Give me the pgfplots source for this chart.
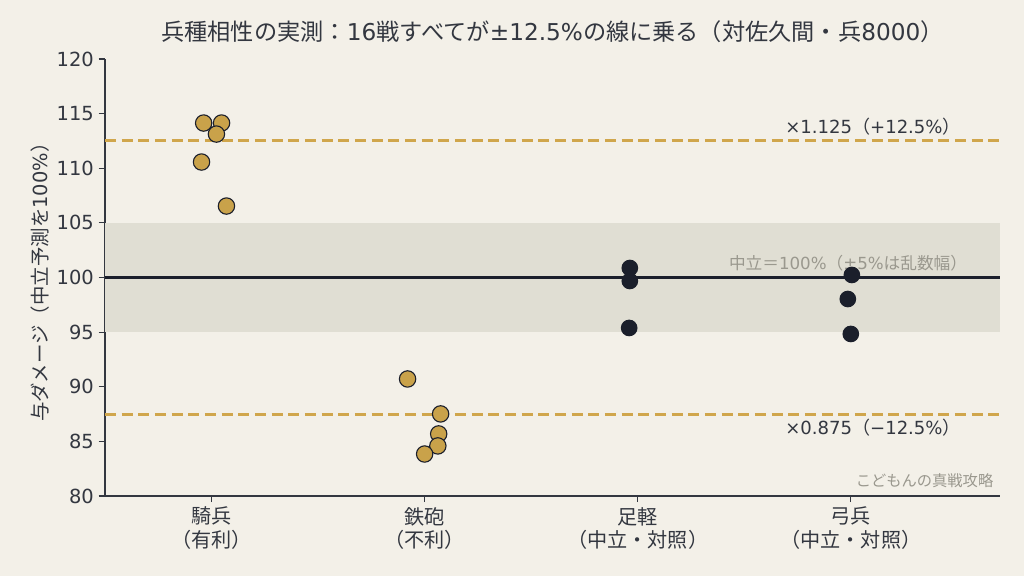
\documentclass[border=0pt]{standalone}
\usepackage{pgfplots}
\pgfplotsset{compat=1.18}
\usepackage{fontspec}
\setmainfont{DejaVu Sans}
\newfontfamily\cjk{Noto Sans CJK JP}
\definecolor{bgc}{HTML}{F3F0E8}
\definecolor{bandc}{HTML}{E0DED3}
\definecolor{goldc}{HTML}{C9A24A}
\definecolor{dashc}{HTML}{D0A64C}
\definecolor{darkc}{HTML}{1B1F2B}
\definecolor{grayc}{HTML}{9A988E}
\definecolor{axc}{HTML}{333740}
\begin{document}
\begin{tikzpicture}
\fill[bgc] (-75.6pt,-57.6pt) rectangle (661.7pt,357.1pt);
\path[use as bounding box] (-75.6pt,-57.6pt) rectangle (661.7pt,357.1pt);
\begin{axis}[
  at={(0,0)}, anchor=south west,
  scale only axis, width=644.4pt, height=314.6pt,
  xmin=-0.5, xmax=3.7, ymin=80, ymax=120,
  axis x line*=bottom, axis y line*=left,
  axis line style={axc, line width=0.9pt},
  xtick={0,1,2,3},
  xticklabels={{騎兵\\（有利）},{鉄砲\\（不利）},{足軽\\（中立・対照）},{弓兵\\（中立・対照）}},
  xticklabel style={align=center, font=\cjk\fontsize{14.5}{17}\selectfont, text=axc},
  ytick={80,85,...,120},
  yticklabel style={font=\fontsize{14}{16}\selectfont, text=axc},
  /pgf/number format/assume math mode=true,
  tick style={axc, line width=0.8pt},
  major tick length=4.5pt,
  tick align=outside,
  ylabel={{\cjk 与ダメージ（中立予測を}100\%{\cjk ）}},
  ylabel style={at={(axis description cs:0,0.5)}, anchor=center, yshift=47pt, font=\fontsize{14}{16}\selectfont, text=axc},
  title={{\cjk 兵種相性の実測：}16{\cjk 戦すべてが}±12.5\%{\cjk の線に乗る（対佐久間・兵}8000{\cjk ）}},
  title style={at={(axis description cs:0.5,1)}, anchor=center, yshift=14pt, font=\fontsize{16.7}{19}\selectfont, text=axc},
  clip=false,
]
\fill[bandc] (axis cs:-0.5,95) rectangle (axis cs:3.7,105);
\draw[darkc, line width=1.5pt] (axis cs:-0.5,100) -- (axis cs:3.7,100);
\draw[dashc, line width=2.2pt, dash pattern=on 8pt off 4pt] (axis cs:-0.5,112.5) -- (axis cs:3.7,112.5);
\draw[dashc, line width=2.2pt, dash pattern=on 8pt off 4pt] (axis cs:-0.5,87.5) -- (axis cs:3.7,87.5);
\node[anchor=south east, text=axc, font=\fontsize{13}{15}\selectfont, inner sep=2pt] at (axis cs:3.53,112.7) {×1.125{\cjk （}+12.5\%{\cjk ）}};
\node[anchor=north east, text=axc, font=\fontsize{13}{15}\selectfont, inner sep=2pt] at (axis cs:3.53,87.3) {×0.875{\cjk （}−12.5\%{\cjk ）}};
\node[anchor=south east, text=grayc, font=\fontsize{12}{14}\selectfont, inner sep=2pt] at (axis cs:3.56,100.3) {{\cjk 中立＝}100\%{\cjk （}±5\%{\cjk は乱数幅）}};
\node[anchor=east, text=grayc, font=\cjk\fontsize{11}{13}\selectfont, inner sep=0pt] at (axis cs:3.67,81.4) {こどもんの真戦攻略};
% cavalry
\addplot[only marks, mark=*, mark size=5.9pt, mark options={fill=goldc, draw=darkc, line width=0.8pt}] coordinates {
(-0.037,114.14) (0.047,114.14) (0.023,113.13) (-0.047,110.57) (0.07,106.54)};
% guns
\addplot[only marks, mark=*, mark size=5.9pt, mark options={fill=goldc, draw=darkc, line width=0.8pt}] coordinates {
(0.92,90.71) (1.075,87.51) (1.066,85.68) (1.062,84.58) (1.0,83.84)};
% ashigaru
\addplot[only marks, mark=*, mark size=5.6pt, mark options={fill=darkc, draw=darkc, line width=0.8pt}] coordinates {
(1.963,100.87) (1.963,99.68) (1.96,95.38)};
% archers
\addplot[only marks, mark=*, mark size=5.6pt, mark options={fill=darkc, draw=darkc, line width=0.8pt}] coordinates {
(3.005,100.23) (2.986,98.03) (3.0,94.83)};
\end{axis}
\end{tikzpicture}
\end{document}
